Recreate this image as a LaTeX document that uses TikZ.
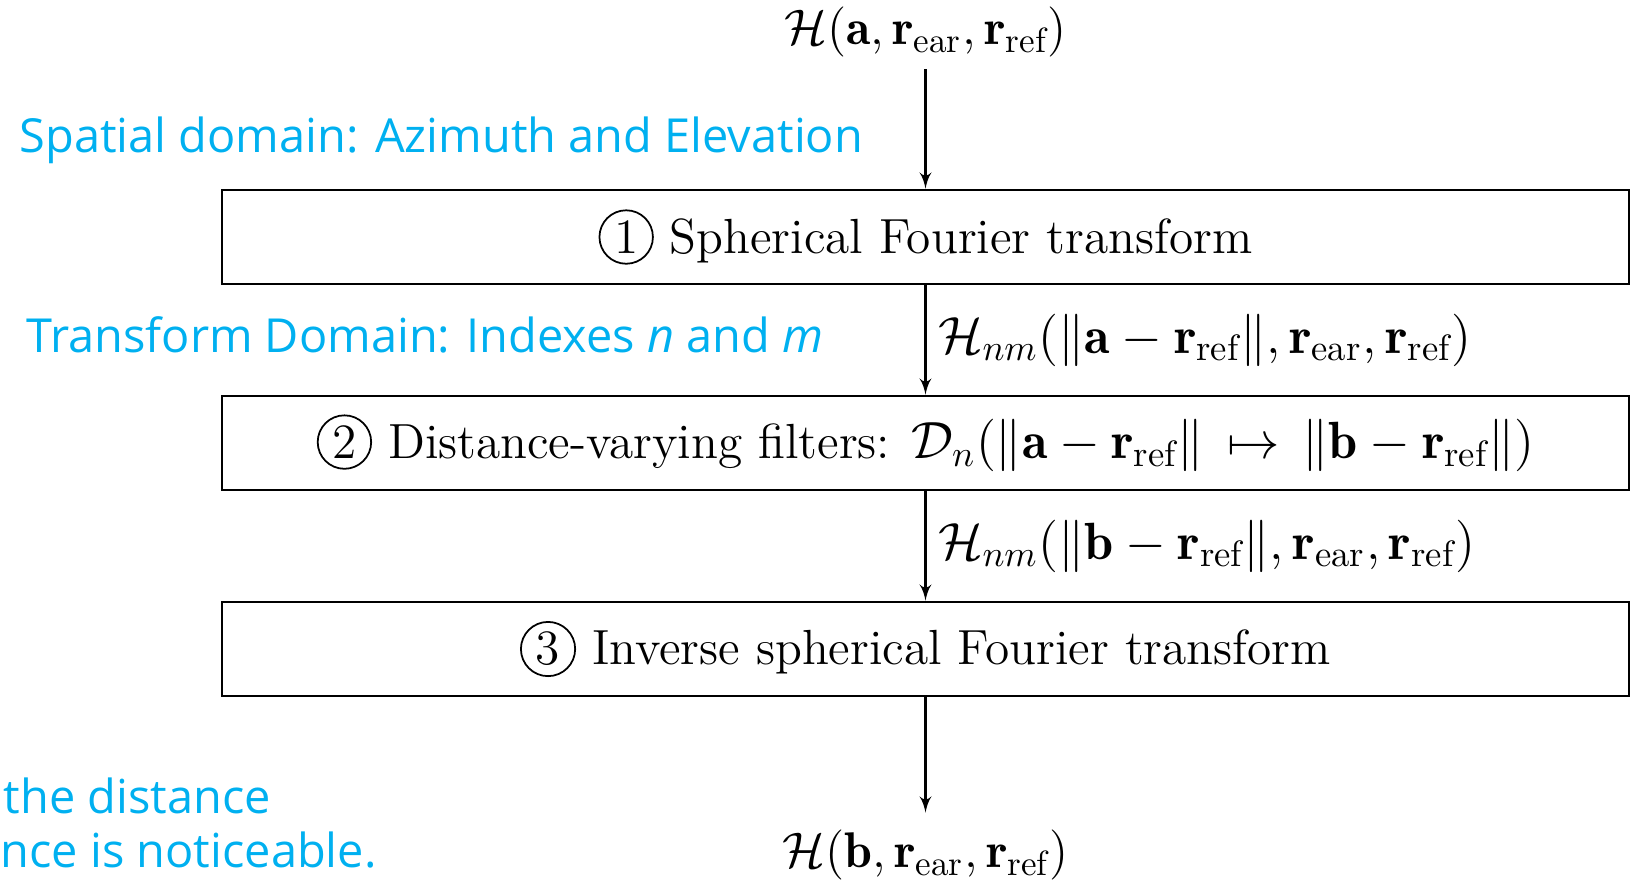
\RequirePackage{fix-cm}
\documentclass[tikz,border=0pt]{standalone}
\usepackage{amsmath,amssymb}
\usepackage{fontspec}
\usepackage{xcolor}
\usepackage{tikz}
\usetikzlibrary{shapes.geometric, arrows, positioning}
\newfontfamily\notefont{Open Sans}
\definecolor{skyblue}{HTML}{00B0F0}
\newcommand{\textsize}{\fontsize{14.05}{16}\selectfont}
\newcommand{\mathsize}{\fontsize{14.9}{17}\selectfont}
\newcommand{\sigsize}{\fontsize{14.25}{16}\selectfont}
\newcommand{\notesize}{\fontsize{13.35}{15.4}\selectfont\notefont}
\newcommand{\circnum}[1]{\tikz[baseline=(cn.base)]\node[circle, draw, minimum size=0pt, minimum width=0pt, minimum height=0pt, line width=0.5pt, inner sep=1.3pt] (cn) {#1};}
\tikzstyle{stage} = [rectangle, minimum width=14.07cm, minimum height=0.94cm, text centered, draw=black, line width=0.8pt, font=\textsize]
\tikzstyle{sig} = [font=\mathsize]
\tikzstyle{endsig} = [font=\sigsize]
\tikzstyle{line} = [draw, line width=0.6pt, -latex']
\tikzstyle{notetext} = [text=skyblue, font=\notesize, anchor=west, inner sep=0pt, align=left]

\begin{document}
\begin{tikzpicture}[node distance = 2.06cm, auto]
    \useasboundingbox (0,0) rectangle (16.42,-8.79);
    % Nodes
    \node [endsig] (in) at (9.255,-0.32) {$\mathcal{H}(\mathbf{a}, \mathbf{r}_{\mathrm{ear}}, \mathbf{r}_{\mathrm{ref}})$};
    \node [stage, below of=in, node distance=2.05cm] (sft) {\circnum{1} Spherical Fourier transform};
    \node [stage, below of=sft] (dvf) {\circnum{2} Distance-varying filters: {\mathsize$\mathcal{D}_n(\|\mathbf{a} - \mathbf{r}_{\mathrm{ref}}\| \,\mapsto\, \|\mathbf{b} - \mathbf{r}_{\mathrm{ref}}\|)$}};
    \node [stage, below of=dvf] (isft) {\circnum{3} Inverse spherical Fourier transform};
    \node [endsig, below of=isft] (out) {$\mathcal{H}(\mathbf{b}, \mathbf{r}_{\mathrm{ear}}, \mathbf{r}_{\mathrm{ref}})$};

    % Domain notes
    \node [notetext] (spatial) at (0.19,-1.40) {Spatial domain: Azimuth and Elevation};
    \node [notetext] (transdom) at (0.26,-3.35) {Transform Domain: Indexes \textit{n} and \textit{m}};
    \node [notetext] (remark) at (0,-8.23) {\hspace{0.03cm}the distance\\nce is noticeable.};

    % Edges
    \path [line] (in) -- (sft);
    \path [line] (sft) -- node [sig, right] {$\mathcal{H}_{nm}(\|\mathbf{a} - \mathbf{r}_{\mathrm{ref}}\|, \mathbf{r}_{\mathrm{ear}}, \mathbf{r}_{\mathrm{ref}})$} (dvf);
    \path [line] (dvf) -- node [sig, right] {$\mathcal{H}_{nm}(\|\mathbf{b} - \mathbf{r}_{\mathrm{ref}}\|, \mathbf{r}_{\mathrm{ear}}, \mathbf{r}_{\mathrm{ref}})$} (isft);
    \path [line, shorten >=0.05cm] (isft) -- (out);
\end{tikzpicture}
\end{document}
